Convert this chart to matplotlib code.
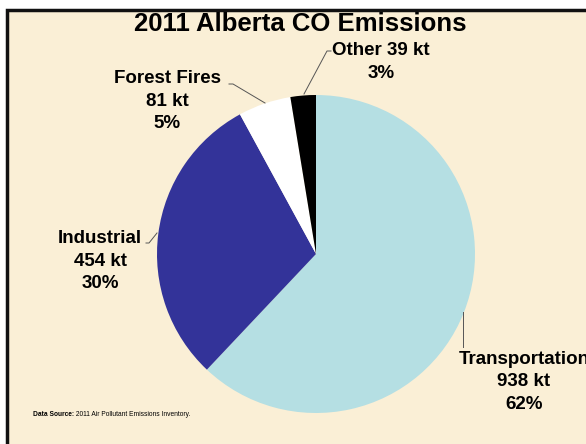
import matplotlib
matplotlib.use("Agg")
import matplotlib.pyplot as plt
from matplotlib.patches import Rectangle

plt.rcParams['font.family'] = ['Liberation Sans', 'DejaVu Sans']

# data
sources = ["Transportation", "Industrial", "Forest Fires", "Other"]
kt = [938, 454, 81, 39]
pct = [62, 30, 5, 3]
colors = ["#b5dfe3", "#333399", "#ffffff", "#000000"]

W, H = 586, 444
bg = "#faefd6"

fig = plt.figure(figsize=(W / 100, H / 100), dpi=100)
fig.patch.set_facecolor("white")
ax = fig.add_axes([0, 0, 1, 1])

# slide background and frame
ax.add_patch(Rectangle((6, -5), W, H - 9 + 5, facecolor=bg, edgecolor="none", zorder=0))
ax.plot([7, 7, W + 5], [-5, H - 10, H - 10], color="#111111", lw=2.5, zorder=1,
        solid_joinstyle="miter")

ax.pie(kt, colors=colors, startangle=90, counterclock=False,
       center=(316, H - 254), radius=159, frame=True,
       wedgeprops=dict(linewidth=0))
ax.set_xlim(0, W)
ax.set_ylim(0, H)
ax.set_aspect("equal")
ax.axis("off")

ax.text(300, H - 24, "2011 Alberta CO Emissions", ha="center", va="center",
        fontsize=18.5, fontweight="bold")

lab = dict(ha="center", va="center", fontsize=13.5, fontweight="bold", linespacing=1.4)
lines = dict(color="#555555", lw=0.7)

ax.text(524, H - 382, "%s\n%d kt\n%d%%" % (sources[0], kt[0], pct[0]), **lab)
ax.plot([463, 463], [H - 312, H - 347], **lines)

ax.text(100, H - 261, "%s\n%d kt\n%d%%" % (sources[1], kt[1], pct[1]), **lab)
ax.plot([146, 149, 157], [H - 243, H - 243, H - 233], **lines)

ax.text(167, H - 101, "%s\n%d kt\n%d%%" % (sources[2], kt[2], pct[2]), **lab)
ax.plot([229, 233, 265], [H - 84, H - 84, H - 103], **lines)

ax.text(381, H - 62, "%s %d kt\n%d%%" % (sources[3], kt[3], pct[3]), **lab)
ax.plot([331, 327, 304], [H - 51, H - 51, H - 94], **lines)

src = ax.text(33, H - 414, "Data Source:", fontsize=4.8, fontweight="bold",
              ha="left", va="center")
ax.annotate(" 2011 Air Pollutant Emissions Inventory.", xy=(1, 0.5), xycoords=src,
            fontsize=4.8, ha="left", va="center")

fig.savefig("out.png", dpi=100, facecolor=fig.get_facecolor())
